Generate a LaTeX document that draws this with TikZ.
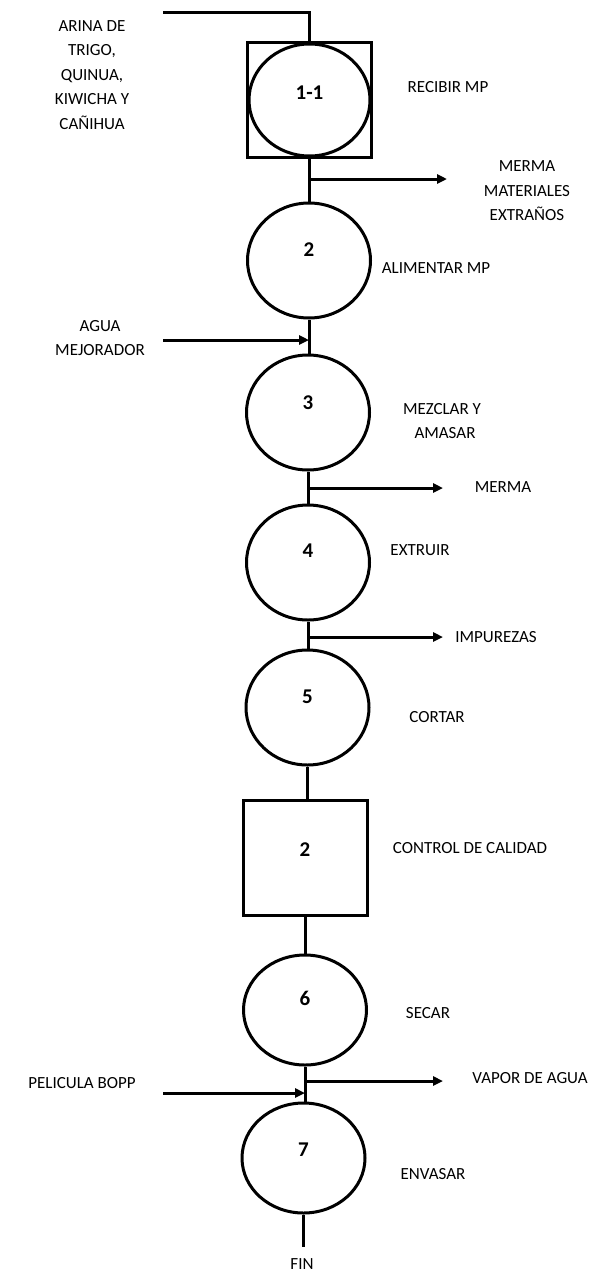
\documentclass[tikz,border=0pt]{standalone}
\usepackage{fontspec}
\setmainfont{Carlito}
\usetikzlibrary{shapes.geometric,arrows.meta}
\newcommand{\lblfont}{\fontsize{17}{24.5}\selectfont}
\newcommand{\numfont}{\fontsize{21}{24}\selectfont\bfseries}
\tikzset{
  flow/.style={line width=3pt},
  arr/.style={flow, -{Triangle[length=10pt,width=9pt]}},
  op/.style={ellipse, draw, line width=3pt, minimum width=123pt, minimum height=115pt, inner sep=0pt},
  insp/.style={rectangle, draw, line width=3pt, minimum width=124pt, minimum height=115pt, inner sep=0pt},
  num/.style={font=\numfont, inner sep=0pt},
  lbl/.style={font=\lblfont, align=center, inner sep=0pt},
}
\begin{document}
\begin{tikzpicture}[x=1pt,y=-1pt]
\useasboundingbox[fill=white] (0,0) rectangle (600,1274);

% process symbols
\node[insp] (sq1) at (309.5,100) {};
\node[op, minimum width=121pt, minimum height=112pt] (c1) at (309.5,100) {};
\node[num] (n1) at (309.5,93) {1-1};
\node[op] (c2) at (309,260.5) {};
\node[num] (n2) at (309,250) {2};
\node[op] (c3) at (308,412.5) {};
\node[num] (n3) at (308,403) {3};
\node[op] (c4) at (308,562.5) {};
\node[num] (n4) at (308,551) {4};
\node[op] (c5) at (307.5,707.5) {};
\node[num] (n5) at (307.5,697) {5};
\node[insp] (sq2) at (305,857.5) {};
\node[num] (n6) at (305,850) {2};
\node[op, minimum height=110pt] (c6) at (305,1010) {};
\node[num] (n7) at (305,998) {6};
\node[op, minimum height=110pt] (c7) at (303.5,1158) {};
\node[num] (n8) at (303.5,1150) {7};

% activity names
\node[lbl] (t1) at (448,87) {RECIBIR MP};
\node[lbl] (t2) at (436,268) {ALIMENTAR MP};
\node[lbl] (t3) at (442,421) {MEZCLAR Y\\\hspace*{6pt}AMASAR};
\node[lbl] (t4) at (420,550) {EXTRUIR};
\node[lbl] (t5) at (437,717) {CORTAR};
\node[lbl] (t6) at (470,848) {CONTROL DE CALIDAD};
\node[lbl] (t7) at (428,1013) {SECAR};
\node[lbl] (t8) at (433,1174) {ENVASAR};

% inputs and outputs
\node[lbl] (i1) at (92,75) {ARINA DE\\TRIGO,\\QUINUA,\\KIWICHA Y\\CAÑIHUA};
\node[lbl] (i2) at (100,338) {AGUA\\MEJORADOR};
\node[lbl] (i3) at (82,1083) {PELICULA BOPP};
\node[lbl] (o1) at (527,191) {MERMA\\MATERIALES\\EXTRAÑOS};
\node[lbl] (o2) at (503,487) {MERMA};
\node[lbl] (o3) at (496,637) {IMPUREZAS};
\node[lbl] (o4) at (530,1078) {VAPOR DE AGUA};
\node[lbl] (fin) at (302,1264) {FIN};

% junction points and free ends
\coordinate (inA) at (163,12);
\coordinate (j1) at (309.5,179);
\coordinate (e1) at (447,179);
\coordinate (inB) at (163,340);
\coordinate (j2) at (309,340);
\coordinate (j3) at (308,488);
\coordinate (e3) at (443,488);
\coordinate (j4) at (308,637);
\coordinate (e4) at (443,637);
\coordinate (j5) at (305,1081);
\coordinate (e5) at (443,1081);
\coordinate (inC) at (163,1093);
\coordinate (j6) at (305,1093);
\coordinate (finend) at (303.5,1247);

% main flow line, kept vertical between symbols
\draw[flow] (inA) -| (sq1.north);
\draw[flow] (sq1.south) -- (sq1.south |- c2.north);
\draw[flow] (c2.south) -- (c2.south |- c3.north);
\draw[flow] (c3.south) -- (c3.south |- c4.north);
\draw[flow] (c4.south) -- (c4.south |- c5.north);
\draw[flow] (c5.south) -- (c5.south |- sq2.north);
\draw[flow] (sq2.south) -- (sq2.south |- c6.north);
\draw[flow] (c6.south) -- (c6.south |- c7.north);
\draw[flow] (c7.south) -- (finend);

% side streams
\draw[arr] (j1) -- (e1);
\draw[arr] (inB) -- (j2);
\draw[arr] (j3) -- (e3);
\draw[arr] (j4) -- (e4);
\draw[arr] (j5) -- (e5);
\draw[arr] (inC) -- (j6);
\end{tikzpicture}
\end{document}
